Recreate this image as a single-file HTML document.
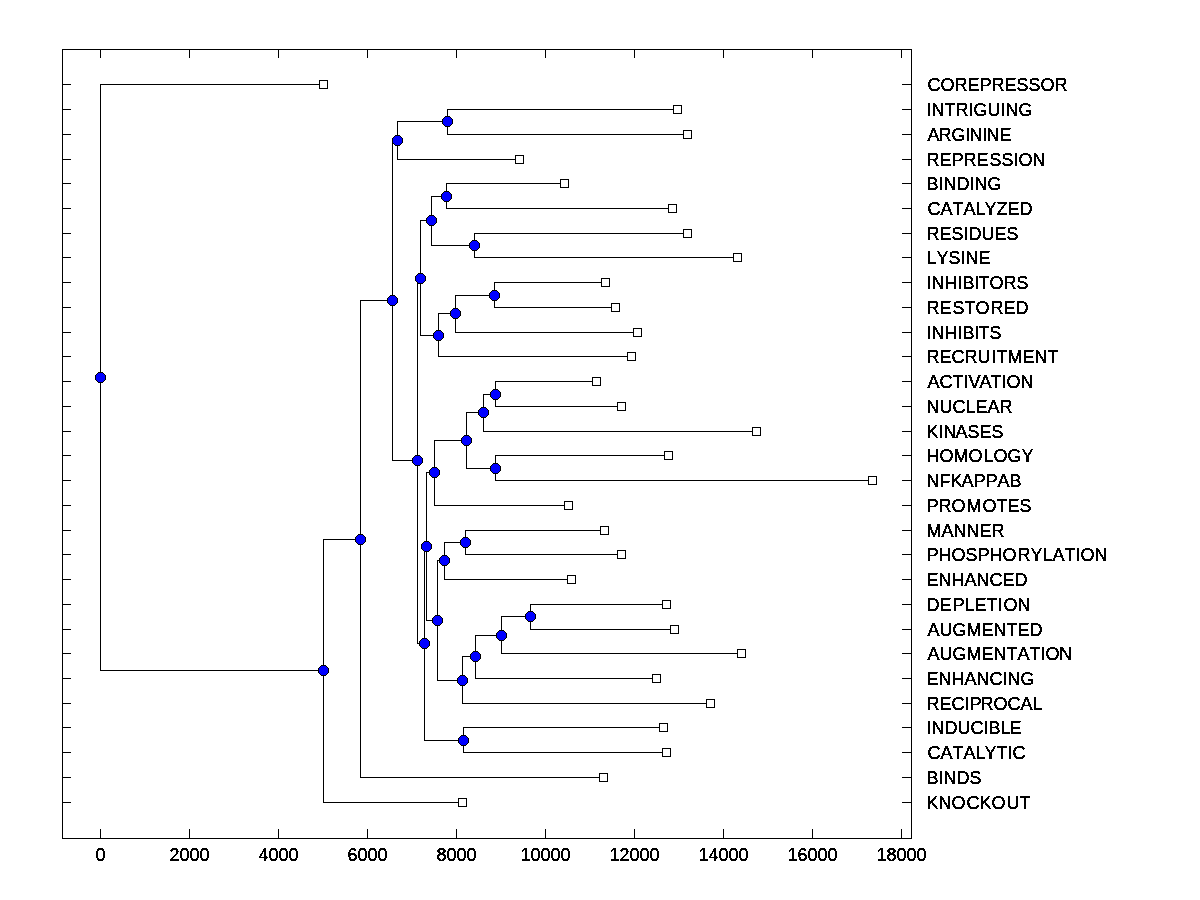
<!DOCTYPE html>
<html><head><meta charset="utf-8"><title>Dendrogram</title>
<style>
html,body{margin:0;padding:0;background:#fff;}
body{width:1200px;height:900px;overflow:hidden;font-family:"Liberation Sans",sans-serif;}
svg{display:block;}
text{font-family:"Liberation Sans",sans-serif;font-size:18px;fill:#000;font-kerning:none;stroke:#000;stroke-width:0.2px;stroke-linejoin:miter;}
</style></head><body>
<svg width="1200" height="900" viewBox="0 0 1200 900">
<rect width="1200" height="900" fill="#fff"/>
<g shape-rendering="crispEdges">
<path fill="#000" d="M62 49h850v1h-850zM62 838h850v1h-850zM62 49h1v790h-1zM911 49h1v790h-1zM100 50h1v8h-1zM100 829h1v9h-1zM189 50h1v8h-1zM189 829h1v9h-1zM278 50h1v8h-1zM278 829h1v9h-1zM367 50h1v8h-1zM367 829h1v9h-1zM456 50h1v8h-1zM456 829h1v9h-1zM545 50h1v8h-1zM545 829h1v9h-1zM634 50h1v8h-1zM634 829h1v9h-1zM723 50h1v8h-1zM723 829h1v9h-1zM812 50h1v8h-1zM812 829h1v9h-1zM901 50h1v8h-1zM901 829h1v9h-1zM63 84h8v1h-8zM902 84h9v1h-9zM63 109h8v1h-8zM902 109h9v1h-9zM63 134h8v1h-8zM902 134h9v1h-9zM63 159h8v1h-8zM902 159h9v1h-9zM63 183h8v1h-8zM902 183h9v1h-9zM63 208h8v1h-8zM902 208h9v1h-9zM63 233h8v1h-8zM902 233h9v1h-9zM63 257h8v1h-8zM902 257h9v1h-9zM63 282h8v1h-8zM902 282h9v1h-9zM63 307h8v1h-8zM902 307h9v1h-9zM63 332h8v1h-8zM902 332h9v1h-9zM63 356h8v1h-8zM902 356h9v1h-9zM63 381h8v1h-8zM902 381h9v1h-9zM63 406h8v1h-8zM902 406h9v1h-9zM63 431h8v1h-8zM902 431h9v1h-9zM63 455h8v1h-8zM902 455h9v1h-9zM63 480h8v1h-8zM902 480h9v1h-9zM63 505h8v1h-8zM902 505h9v1h-9zM63 530h8v1h-8zM902 530h9v1h-9zM63 554h8v1h-8zM902 554h9v1h-9zM63 579h8v1h-8zM902 579h9v1h-9zM63 604h8v1h-8zM902 604h9v1h-9zM63 629h8v1h-8zM902 629h9v1h-9zM63 653h8v1h-8zM902 653h9v1h-9zM63 678h8v1h-8zM902 678h9v1h-9zM63 703h8v1h-8zM902 703h9v1h-9zM63 727h8v1h-8zM902 727h9v1h-9zM63 752h8v1h-8zM902 752h9v1h-9zM63 777h8v1h-8zM902 777h9v1h-9zM63 802h8v1h-8zM902 802h9v1h-9zM100 84h1v587h-1zM100 84h220v1h-220zM100 670h224v1h-224zM323 539h1v264h-1zM323 539h38v1h-38zM323 802h136v1h-136zM360 300h1v478h-1zM360 300h33v1h-33zM360 777h240v1h-240zM392 140h1v321h-1zM392 140h6v1h-6zM392 460h26v1h-26zM397 121h1v39h-1zM397 121h51v1h-51zM397 159h119v1h-119zM447 109h1v26h-1zM447 109h227v1h-227zM447 134h237v1h-237zM417 278h1v366h-1zM417 278h4v1h-4zM417 643h8v1h-8zM420 220h1v116h-1zM420 220h12v1h-12zM420 335h19v1h-19zM431 196h1v50h-1zM431 196h16v1h-16zM431 245h44v1h-44zM446 183h1v26h-1zM446 183h115v1h-115zM446 208h223v1h-223zM474 233h1v25h-1zM474 233h210v1h-210zM474 257h260v1h-260zM438 313h1v44h-1zM438 313h18v1h-18zM438 356h190v1h-190zM455 295h1v38h-1zM455 295h40v1h-40zM455 332h179v1h-179zM494 282h1v26h-1zM494 282h108v1h-108zM494 307h118v1h-118zM424 546h1v195h-1zM424 546h3v1h-3zM424 740h40v1h-40zM426 472h1v149h-1zM426 472h9v1h-9zM426 620h12v1h-12zM434 440h1v66h-1zM434 440h33v1h-33zM434 505h131v1h-131zM466 412h1v57h-1zM466 412h18v1h-18zM466 468h30v1h-30zM483 394h1v38h-1zM483 394h13v1h-13zM483 431h270v1h-270zM495 381h1v26h-1zM495 381h98v1h-98zM495 406h123v1h-123zM495 455h1v26h-1zM495 455h170v1h-170zM495 480h374v1h-374zM437 560h1v121h-1zM437 560h8v1h-8zM437 680h26v1h-26zM444 542h1v38h-1zM444 542h22v1h-22zM444 579h124v1h-124zM465 530h1v25h-1zM465 530h136v1h-136zM465 554h153v1h-153zM462 656h1v48h-1zM462 656h14v1h-14zM462 703h245v1h-245zM475 635h1v44h-1zM475 635h27v1h-27zM475 678h178v1h-178zM501 616h1v38h-1zM501 616h30v1h-30zM501 653h237v1h-237zM530 604h1v26h-1zM530 604h133v1h-133zM530 629h141v1h-141zM463 727h1v26h-1zM463 727h197v1h-197zM463 752h200v1h-200z"/>
<path fill="#000" d="M319 80h9v9h-9zM673 105h9v9h-9zM683 130h9v9h-9zM515 155h9v9h-9zM560 179h9v9h-9zM668 204h9v9h-9zM683 229h9v9h-9zM733 253h9v9h-9zM601 278h9v9h-9zM611 303h9v9h-9zM633 328h9v9h-9zM627 352h9v9h-9zM592 377h9v9h-9zM617 402h9v9h-9zM752 427h9v9h-9zM664 451h9v9h-9zM868 476h9v9h-9zM564 501h9v9h-9zM600 526h9v9h-9zM617 550h9v9h-9zM567 575h9v9h-9zM662 600h9v9h-9zM670 625h9v9h-9zM737 649h9v9h-9zM652 674h9v9h-9zM706 699h9v9h-9zM659 723h9v9h-9zM662 748h9v9h-9zM599 773h9v9h-9zM458 798h9v9h-9z"/>
<path fill="#fff" d="M320 81h7v7h-7zM674 106h7v7h-7zM684 131h7v7h-7zM516 156h7v7h-7zM561 180h7v7h-7zM669 205h7v7h-7zM684 230h7v7h-7zM734 254h7v7h-7zM602 279h7v7h-7zM612 304h7v7h-7zM634 329h7v7h-7zM628 353h7v7h-7zM593 378h7v7h-7zM618 403h7v7h-7zM753 428h7v7h-7zM665 452h7v7h-7zM869 477h7v7h-7zM565 502h7v7h-7zM601 527h7v7h-7zM618 551h7v7h-7zM568 576h7v7h-7zM663 601h7v7h-7zM671 626h7v7h-7zM738 650h7v7h-7zM653 675h7v7h-7zM707 700h7v7h-7zM660 724h7v7h-7zM663 749h7v7h-7zM600 774h7v7h-7zM459 799h7v7h-7z"/>
<path fill="#000" d="M98 372h5v1h-5zM97 373h7v1h-7zM96 374h9v1h-9zM95 375h11v1h-11zM95 376h11v1h-11zM95 377h11v1h-11zM95 378h11v1h-11zM95 379h11v1h-11zM96 380h9v1h-9zM97 381h7v1h-7zM98 382h5v1h-5zM321 665h5v1h-5zM320 666h7v1h-7zM319 667h9v1h-9zM318 668h11v1h-11zM318 669h11v1h-11zM318 670h11v1h-11zM318 671h11v1h-11zM318 672h11v1h-11zM319 673h9v1h-9zM320 674h7v1h-7zM321 675h5v1h-5zM358 534h5v1h-5zM357 535h7v1h-7zM356 536h9v1h-9zM355 537h11v1h-11zM355 538h11v1h-11zM355 539h11v1h-11zM355 540h11v1h-11zM355 541h11v1h-11zM356 542h9v1h-9zM357 543h7v1h-7zM358 544h5v1h-5zM390 295h5v1h-5zM389 296h7v1h-7zM388 297h9v1h-9zM387 298h11v1h-11zM387 299h11v1h-11zM387 300h11v1h-11zM387 301h11v1h-11zM387 302h11v1h-11zM388 303h9v1h-9zM389 304h7v1h-7zM390 305h5v1h-5zM395 135h5v1h-5zM394 136h7v1h-7zM393 137h9v1h-9zM392 138h11v1h-11zM392 139h11v1h-11zM392 140h11v1h-11zM392 141h11v1h-11zM392 142h11v1h-11zM393 143h9v1h-9zM394 144h7v1h-7zM395 145h5v1h-5zM445 116h5v1h-5zM444 117h7v1h-7zM443 118h9v1h-9zM442 119h11v1h-11zM442 120h11v1h-11zM442 121h11v1h-11zM442 122h11v1h-11zM442 123h11v1h-11zM443 124h9v1h-9zM444 125h7v1h-7zM445 126h5v1h-5zM415 455h5v1h-5zM414 456h7v1h-7zM413 457h9v1h-9zM412 458h11v1h-11zM412 459h11v1h-11zM412 460h11v1h-11zM412 461h11v1h-11zM412 462h11v1h-11zM413 463h9v1h-9zM414 464h7v1h-7zM415 465h5v1h-5zM418 273h5v1h-5zM417 274h7v1h-7zM416 275h9v1h-9zM415 276h11v1h-11zM415 277h11v1h-11zM415 278h11v1h-11zM415 279h11v1h-11zM415 280h11v1h-11zM416 281h9v1h-9zM417 282h7v1h-7zM418 283h5v1h-5zM429 215h5v1h-5zM428 216h7v1h-7zM427 217h9v1h-9zM426 218h11v1h-11zM426 219h11v1h-11zM426 220h11v1h-11zM426 221h11v1h-11zM426 222h11v1h-11zM427 223h9v1h-9zM428 224h7v1h-7zM429 225h5v1h-5zM444 191h5v1h-5zM443 192h7v1h-7zM442 193h9v1h-9zM441 194h11v1h-11zM441 195h11v1h-11zM441 196h11v1h-11zM441 197h11v1h-11zM441 198h11v1h-11zM442 199h9v1h-9zM443 200h7v1h-7zM444 201h5v1h-5zM472 240h5v1h-5zM471 241h7v1h-7zM470 242h9v1h-9zM469 243h11v1h-11zM469 244h11v1h-11zM469 245h11v1h-11zM469 246h11v1h-11zM469 247h11v1h-11zM470 248h9v1h-9zM471 249h7v1h-7zM472 250h5v1h-5zM436 330h5v1h-5zM435 331h7v1h-7zM434 332h9v1h-9zM433 333h11v1h-11zM433 334h11v1h-11zM433 335h11v1h-11zM433 336h11v1h-11zM433 337h11v1h-11zM434 338h9v1h-9zM435 339h7v1h-7zM436 340h5v1h-5zM453 308h5v1h-5zM452 309h7v1h-7zM451 310h9v1h-9zM450 311h11v1h-11zM450 312h11v1h-11zM450 313h11v1h-11zM450 314h11v1h-11zM450 315h11v1h-11zM451 316h9v1h-9zM452 317h7v1h-7zM453 318h5v1h-5zM492 290h5v1h-5zM491 291h7v1h-7zM490 292h9v1h-9zM489 293h11v1h-11zM489 294h11v1h-11zM489 295h11v1h-11zM489 296h11v1h-11zM489 297h11v1h-11zM490 298h9v1h-9zM491 299h7v1h-7zM492 300h5v1h-5zM422 638h5v1h-5zM421 639h7v1h-7zM420 640h9v1h-9zM419 641h11v1h-11zM419 642h11v1h-11zM419 643h11v1h-11zM419 644h11v1h-11zM419 645h11v1h-11zM420 646h9v1h-9zM421 647h7v1h-7zM422 648h5v1h-5zM424 541h5v1h-5zM423 542h7v1h-7zM422 543h9v1h-9zM421 544h11v1h-11zM421 545h11v1h-11zM421 546h11v1h-11zM421 547h11v1h-11zM421 548h11v1h-11zM422 549h9v1h-9zM423 550h7v1h-7zM424 551h5v1h-5zM432 467h5v1h-5zM431 468h7v1h-7zM430 469h9v1h-9zM429 470h11v1h-11zM429 471h11v1h-11zM429 472h11v1h-11zM429 473h11v1h-11zM429 474h11v1h-11zM430 475h9v1h-9zM431 476h7v1h-7zM432 477h5v1h-5zM464 435h5v1h-5zM463 436h7v1h-7zM462 437h9v1h-9zM461 438h11v1h-11zM461 439h11v1h-11zM461 440h11v1h-11zM461 441h11v1h-11zM461 442h11v1h-11zM462 443h9v1h-9zM463 444h7v1h-7zM464 445h5v1h-5zM481 407h5v1h-5zM480 408h7v1h-7zM479 409h9v1h-9zM478 410h11v1h-11zM478 411h11v1h-11zM478 412h11v1h-11zM478 413h11v1h-11zM478 414h11v1h-11zM479 415h9v1h-9zM480 416h7v1h-7zM481 417h5v1h-5zM493 389h5v1h-5zM492 390h7v1h-7zM491 391h9v1h-9zM490 392h11v1h-11zM490 393h11v1h-11zM490 394h11v1h-11zM490 395h11v1h-11zM490 396h11v1h-11zM491 397h9v1h-9zM492 398h7v1h-7zM493 399h5v1h-5zM493 463h5v1h-5zM492 464h7v1h-7zM491 465h9v1h-9zM490 466h11v1h-11zM490 467h11v1h-11zM490 468h11v1h-11zM490 469h11v1h-11zM490 470h11v1h-11zM491 471h9v1h-9zM492 472h7v1h-7zM493 473h5v1h-5zM435 615h5v1h-5zM434 616h7v1h-7zM433 617h9v1h-9zM432 618h11v1h-11zM432 619h11v1h-11zM432 620h11v1h-11zM432 621h11v1h-11zM432 622h11v1h-11zM433 623h9v1h-9zM434 624h7v1h-7zM435 625h5v1h-5zM442 555h5v1h-5zM441 556h7v1h-7zM440 557h9v1h-9zM439 558h11v1h-11zM439 559h11v1h-11zM439 560h11v1h-11zM439 561h11v1h-11zM439 562h11v1h-11zM440 563h9v1h-9zM441 564h7v1h-7zM442 565h5v1h-5zM463 537h5v1h-5zM462 538h7v1h-7zM461 539h9v1h-9zM460 540h11v1h-11zM460 541h11v1h-11zM460 542h11v1h-11zM460 543h11v1h-11zM460 544h11v1h-11zM461 545h9v1h-9zM462 546h7v1h-7zM463 547h5v1h-5zM460 675h5v1h-5zM459 676h7v1h-7zM458 677h9v1h-9zM457 678h11v1h-11zM457 679h11v1h-11zM457 680h11v1h-11zM457 681h11v1h-11zM457 682h11v1h-11zM458 683h9v1h-9zM459 684h7v1h-7zM460 685h5v1h-5zM473 651h5v1h-5zM472 652h7v1h-7zM471 653h9v1h-9zM470 654h11v1h-11zM470 655h11v1h-11zM470 656h11v1h-11zM470 657h11v1h-11zM470 658h11v1h-11zM471 659h9v1h-9zM472 660h7v1h-7zM473 661h5v1h-5zM499 630h5v1h-5zM498 631h7v1h-7zM497 632h9v1h-9zM496 633h11v1h-11zM496 634h11v1h-11zM496 635h11v1h-11zM496 636h11v1h-11zM496 637h11v1h-11zM497 638h9v1h-9zM498 639h7v1h-7zM499 640h5v1h-5zM528 611h5v1h-5zM527 612h7v1h-7zM526 613h9v1h-9zM525 614h11v1h-11zM525 615h11v1h-11zM525 616h11v1h-11zM525 617h11v1h-11zM525 618h11v1h-11zM526 619h9v1h-9zM527 620h7v1h-7zM528 621h5v1h-5zM461 735h5v1h-5zM460 736h7v1h-7zM459 737h9v1h-9zM458 738h11v1h-11zM458 739h11v1h-11zM458 740h11v1h-11zM458 741h11v1h-11zM458 742h11v1h-11zM459 743h9v1h-9zM460 744h7v1h-7zM461 745h5v1h-5z"/>
<path fill="#00f" d="M98 373h5v1h-5zM97 374h7v1h-7zM96 375h9v1h-9zM96 376h9v1h-9zM96 377h9v1h-9zM96 378h9v1h-9zM96 379h9v1h-9zM97 380h7v1h-7zM98 381h5v1h-5zM321 666h5v1h-5zM320 667h7v1h-7zM319 668h9v1h-9zM319 669h9v1h-9zM319 670h9v1h-9zM319 671h9v1h-9zM319 672h9v1h-9zM320 673h7v1h-7zM321 674h5v1h-5zM358 535h5v1h-5zM357 536h7v1h-7zM356 537h9v1h-9zM356 538h9v1h-9zM356 539h9v1h-9zM356 540h9v1h-9zM356 541h9v1h-9zM357 542h7v1h-7zM358 543h5v1h-5zM390 296h5v1h-5zM389 297h7v1h-7zM388 298h9v1h-9zM388 299h9v1h-9zM388 300h9v1h-9zM388 301h9v1h-9zM388 302h9v1h-9zM389 303h7v1h-7zM390 304h5v1h-5zM395 136h5v1h-5zM394 137h7v1h-7zM393 138h9v1h-9zM393 139h9v1h-9zM393 140h9v1h-9zM393 141h9v1h-9zM393 142h9v1h-9zM394 143h7v1h-7zM395 144h5v1h-5zM445 117h5v1h-5zM444 118h7v1h-7zM443 119h9v1h-9zM443 120h9v1h-9zM443 121h9v1h-9zM443 122h9v1h-9zM443 123h9v1h-9zM444 124h7v1h-7zM445 125h5v1h-5zM415 456h5v1h-5zM414 457h7v1h-7zM413 458h9v1h-9zM413 459h9v1h-9zM413 460h9v1h-9zM413 461h9v1h-9zM413 462h9v1h-9zM414 463h7v1h-7zM415 464h5v1h-5zM418 274h5v1h-5zM417 275h7v1h-7zM416 276h9v1h-9zM416 277h9v1h-9zM416 278h9v1h-9zM416 279h9v1h-9zM416 280h9v1h-9zM417 281h7v1h-7zM418 282h5v1h-5zM429 216h5v1h-5zM428 217h7v1h-7zM427 218h9v1h-9zM427 219h9v1h-9zM427 220h9v1h-9zM427 221h9v1h-9zM427 222h9v1h-9zM428 223h7v1h-7zM429 224h5v1h-5zM444 192h5v1h-5zM443 193h7v1h-7zM442 194h9v1h-9zM442 195h9v1h-9zM442 196h9v1h-9zM442 197h9v1h-9zM442 198h9v1h-9zM443 199h7v1h-7zM444 200h5v1h-5zM472 241h5v1h-5zM471 242h7v1h-7zM470 243h9v1h-9zM470 244h9v1h-9zM470 245h9v1h-9zM470 246h9v1h-9zM470 247h9v1h-9zM471 248h7v1h-7zM472 249h5v1h-5zM436 331h5v1h-5zM435 332h7v1h-7zM434 333h9v1h-9zM434 334h9v1h-9zM434 335h9v1h-9zM434 336h9v1h-9zM434 337h9v1h-9zM435 338h7v1h-7zM436 339h5v1h-5zM453 309h5v1h-5zM452 310h7v1h-7zM451 311h9v1h-9zM451 312h9v1h-9zM451 313h9v1h-9zM451 314h9v1h-9zM451 315h9v1h-9zM452 316h7v1h-7zM453 317h5v1h-5zM492 291h5v1h-5zM491 292h7v1h-7zM490 293h9v1h-9zM490 294h9v1h-9zM490 295h9v1h-9zM490 296h9v1h-9zM490 297h9v1h-9zM491 298h7v1h-7zM492 299h5v1h-5zM422 639h5v1h-5zM421 640h7v1h-7zM420 641h9v1h-9zM420 642h9v1h-9zM420 643h9v1h-9zM420 644h9v1h-9zM420 645h9v1h-9zM421 646h7v1h-7zM422 647h5v1h-5zM424 542h5v1h-5zM423 543h7v1h-7zM422 544h9v1h-9zM422 545h9v1h-9zM422 546h9v1h-9zM422 547h9v1h-9zM422 548h9v1h-9zM423 549h7v1h-7zM424 550h5v1h-5zM432 468h5v1h-5zM431 469h7v1h-7zM430 470h9v1h-9zM430 471h9v1h-9zM430 472h9v1h-9zM430 473h9v1h-9zM430 474h9v1h-9zM431 475h7v1h-7zM432 476h5v1h-5zM464 436h5v1h-5zM463 437h7v1h-7zM462 438h9v1h-9zM462 439h9v1h-9zM462 440h9v1h-9zM462 441h9v1h-9zM462 442h9v1h-9zM463 443h7v1h-7zM464 444h5v1h-5zM481 408h5v1h-5zM480 409h7v1h-7zM479 410h9v1h-9zM479 411h9v1h-9zM479 412h9v1h-9zM479 413h9v1h-9zM479 414h9v1h-9zM480 415h7v1h-7zM481 416h5v1h-5zM493 390h5v1h-5zM492 391h7v1h-7zM491 392h9v1h-9zM491 393h9v1h-9zM491 394h9v1h-9zM491 395h9v1h-9zM491 396h9v1h-9zM492 397h7v1h-7zM493 398h5v1h-5zM493 464h5v1h-5zM492 465h7v1h-7zM491 466h9v1h-9zM491 467h9v1h-9zM491 468h9v1h-9zM491 469h9v1h-9zM491 470h9v1h-9zM492 471h7v1h-7zM493 472h5v1h-5zM435 616h5v1h-5zM434 617h7v1h-7zM433 618h9v1h-9zM433 619h9v1h-9zM433 620h9v1h-9zM433 621h9v1h-9zM433 622h9v1h-9zM434 623h7v1h-7zM435 624h5v1h-5zM442 556h5v1h-5zM441 557h7v1h-7zM440 558h9v1h-9zM440 559h9v1h-9zM440 560h9v1h-9zM440 561h9v1h-9zM440 562h9v1h-9zM441 563h7v1h-7zM442 564h5v1h-5zM463 538h5v1h-5zM462 539h7v1h-7zM461 540h9v1h-9zM461 541h9v1h-9zM461 542h9v1h-9zM461 543h9v1h-9zM461 544h9v1h-9zM462 545h7v1h-7zM463 546h5v1h-5zM460 676h5v1h-5zM459 677h7v1h-7zM458 678h9v1h-9zM458 679h9v1h-9zM458 680h9v1h-9zM458 681h9v1h-9zM458 682h9v1h-9zM459 683h7v1h-7zM460 684h5v1h-5zM473 652h5v1h-5zM472 653h7v1h-7zM471 654h9v1h-9zM471 655h9v1h-9zM471 656h9v1h-9zM471 657h9v1h-9zM471 658h9v1h-9zM472 659h7v1h-7zM473 660h5v1h-5zM499 631h5v1h-5zM498 632h7v1h-7zM497 633h9v1h-9zM497 634h9v1h-9zM497 635h9v1h-9zM497 636h9v1h-9zM497 637h9v1h-9zM498 638h7v1h-7zM499 639h5v1h-5zM528 612h5v1h-5zM527 613h7v1h-7zM526 614h9v1h-9zM526 615h9v1h-9zM526 616h9v1h-9zM526 617h9v1h-9zM526 618h9v1h-9zM527 619h7v1h-7zM528 620h5v1h-5zM461 736h5v1h-5zM460 737h7v1h-7zM459 738h9v1h-9zM459 739h9v1h-9zM459 740h9v1h-9zM459 741h9v1h-9zM459 742h9v1h-9zM460 743h7v1h-7zM461 744h5v1h-5z"/>
</g>
<defs><filter id="crisp" x="0" y="0" width="1200" height="900" filterUnits="userSpaceOnUse" color-interpolation-filters="sRGB"><feComponentTransfer><feFuncA type="discrete" tableValues="0 0 1 1 1"/></feComponentTransfer></filter></defs>
<g filter="url(#crisp)"><g transform="scale(1,1.05)">
<text x="927.5" y="86.667">COREPRESSOR</text>
<text x="926.5" y="110.476">INTRIGUING</text>
<text x="927.5" dx="0 -1 0 0 -1 0 -1 0" y="134.286">ARGININE</text>
<text x="926.5" dx="0 0 0 0 0 1 0 0 0 0" y="158.095">REPRESSION</text>
<text x="926.5" y="180.952">BINDING</text>
<text x="927.5" dx="0 0 0 0 0 -1 0 0 0" y="204.762">CATALYZED</text>
<text x="926.5" y="228.571">RESIDUES</text>
<text x="926.5" y="251.429">LYSINE</text>
<text x="926.5" dx="0 0 0 0 0 0 -1 0 0 0" y="275.238">INHIBITORS</text>
<text x="926.5" dx="0 0 1 0 0 1 0 0" y="299.048">RESTORED</text>
<text x="926.5" dx="0 0 0 0 0 0 -1 0" y="322.857">INHIBITS</text>
<text x="926.5" dx="0 0 0 0 0 1 0 0 0 0 0" y="345.714">RECRUITMENT</text>
<text x="927.5" dx="0 0 0 0 0 -1 -1 0 0 0" y="369.524">ACTIVATION</text>
<text x="926.5" y="393.333">NUCLEAR</text>
<text x="926.5" dx="0 0 0 -1 0 0 0" y="417.143">KINASES</text>
<text x="926.5" dx="0 0 0 0 1 0 0 0" y="440.000">HOMOLOGY</text>
<text x="926.5" dx="0 0 0 -1 0 0 0 0" y="463.810">NFKAPPAB</text>
<text x="926.5" dx="0 0 0 1 1 0 0 0" y="487.619">PROMOTES</text>
<text x="926.5" y="511.429">MANNER</text>
<text x="926.5" dx="0 0 0 0 0 0 0 1 0 0 0 0 0 0 0" y="534.286">PHOSPHORYLATION</text>
<text x="926.5" y="558.095">ENHANCED</text>
<text x="926.5" dx="0 0 1 0 0 0 0 1 0" y="581.905">DEPLETION</text>
<text x="927.5" y="605.714">AUGMENTED</text>
<text x="927.5" y="628.571">AUGMENTATION</text>
<text x="926.5" y="652.381">ENHANCING</text>
<text x="926.5" dx="0 0 0 0 0 -1 0 0 0 0" y="676.190">RECIPROCAL</text>
<text x="926.5" dx="0 0 0 0 0 0 0 0 -1" y="699.048">INDUCIBLE</text>
<text x="927.5" dx="0 0 0 0 0 -1 0 0 0" y="722.857">CATALYTIC</text>
<text x="926.5" y="746.667">BINDS</text>
<text x="926.5" dx="0 0 0 1 0 0 1 0" y="770.476">KNOCKOUT</text>
<text x="100.5" y="820.000" text-anchor="middle">0</text>
<text x="189.5" y="820.000" text-anchor="middle">2000</text>
<text x="278.5" y="820.000" text-anchor="middle">4000</text>
<text x="367.5" y="820.000" text-anchor="middle">6000</text>
<text x="456.5" y="820.000" text-anchor="middle">8000</text>
<text x="545.5" y="820.000" text-anchor="middle">10000</text>
<text x="634.5" y="820.000" text-anchor="middle">12000</text>
<text x="723.5" y="820.000" text-anchor="middle">14000</text>
<text x="812.5" y="820.000" text-anchor="middle">16000</text>
<text x="901.5" y="820.000" text-anchor="middle">18000</text>
</g></g>
</svg>
</body></html>
